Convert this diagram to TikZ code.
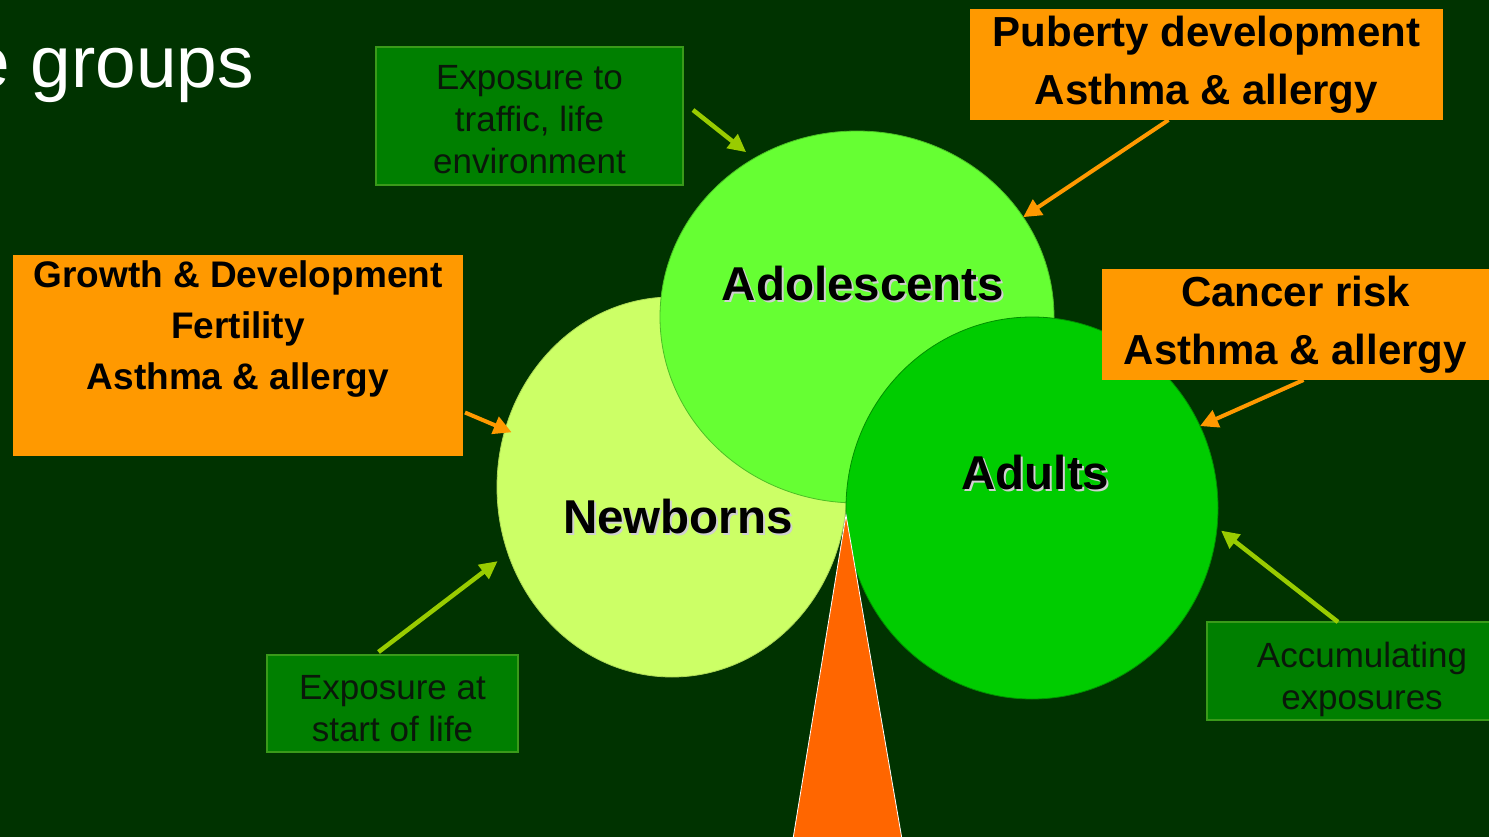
\documentclass[tikz,border=0pt]{standalone}
\usepackage{fontspec}
\setmainfont{Liberation Sans}
\usetikzlibrary{shapes.geometric,arrows.meta,calc}
\definecolor{bgc}{HTML}{003300}
\definecolor{newbc}{HTML}{CCFF66}
\definecolor{adolc}{HTML}{66FF33}
\definecolor{adultc}{HTML}{00CC00}
\definecolor{orangec}{HTML}{FF9900}
\definecolor{tric}{HTML}{FF6600}
\definecolor{gboxfill}{HTML}{007F00}
\definecolor{boxedge}{HTML}{3A9A1A}
\definecolor{gtext}{HTML}{0A180A}
\definecolor{limec}{HTML}{99CC00}
\definecolor{shadowc}{HTML}{D0D0D0}
\begin{document}
\begin{tikzpicture}[x=1pt,y=-1pt,
  gbox/.style={draw=boxedge, line width=1.5pt, fill=gboxfill, inner sep=0pt, outer sep=0pt},
  gtxt/.style={inner sep=0pt, align=center, text=gtext, font=\fontsize{35}{42}\selectfont},
  obox/.style={fill=orangec, inner sep=0pt, outer sep=0pt, align=center, text=black,
    font=\bfseries\fontsize{42}{58}\selectfont},
  agecircle/.style={ellipse, inner sep=0pt, outer sep=0pt, line width=0.8pt},
  circlabel/.style={inner sep=0pt, anchor=base, font=\bfseries\fontsize{47.5}{50}\selectfont},
  limearrow/.style={draw=limec, line width=4.5pt, -{Triangle[length=18pt,width=17pt]}},
  orarrow/.style={draw=orangec, line width=4pt, -{Triangle[length=18pt,width=18pt]}}
]
\useasboundingbox (0,0) rectangle (1489,837);
\fill[bgc] (0,0) rectangle (1489,837);

% title
\node[anchor=base east, text=white, inner sep=0pt, font=\fontsize{73}{80}\selectfont] (title) at (254,88) {e groups};

% circles
\node[agecircle, fill=newbc, draw=newbc!85!black, minimum width=350pt, minimum height=380pt] (newb) at (672,487) {};
\node[agecircle, fill=adolc, draw=adolc!75!black, minimum width=394pt, minimum height=372pt] (adol) at (857,317) {};
\node[agecircle, fill=adultc, draw=adultc!70!black, minimum width=372pt, minimum height=382pt] (adult) at (1032,508) {};

% trunk
\filldraw[fill=tric, draw=white, line width=0.8pt] (846,515) -- (792,845) -- (903,845) -- cycle;

% circle labels
\node[circlabel, text=shadowc] (adolsh) at (865,302) {Adolescents};
\node[circlabel] (adolt) at (863,300) {Adolescents};
\node[circlabel, text=shadowc] (newbsh) at (680,535) {Newborns};
\node[circlabel] (newbt) at (678,533) {Newborns};
\node[circlabel, text=shadowc] (adultsh) at (1037.5,491) {Adults};
\node[circlabel] (adultt) at (1035.5,489) {Adults};

% green exposure boxes
\node[gbox, minimum width=307pt, minimum height=138pt] (traffic) at (529.5,116) {};
\node[gtxt] (traffict) at (529.5,119.5) {Exposure to\\traffic, life\\environment};
\node[gbox, minimum width=251pt, minimum height=97pt] (birth) at (392.5,703.5) {};
\node[gtxt] (birtht) at (392.5,709) {Exposure at\\start of life};
\node[gbox, minimum width=310pt, minimum height=98pt] (accum) at (1362,671) {};
\node[gtxt] (accumt) at (1362,679) {Accumulating\\exposures};

% orange outcome boxes
\node[obox, minimum width=473pt, minimum height=111pt] (pub) at (1206.5,64.5) {Puberty development\\Asthma \& allergy};
\node[obox, minimum width=387pt, minimum height=111pt] (cancer) at (1295.5,324.5) {Cancer risk\\Asthma \& allergy};
\node[fill=orangec, inner sep=0pt, outer sep=0pt, minimum width=450pt, minimum height=201pt] (growth) at (238,355.5) {};
\node[anchor=north, inner sep=0pt, align=center, font=\bfseries\fontsize{37}{51}\selectfont] (growtht) at (238,260) {Growth \& Development\\Fertility\\Asthma \& allergy};

% arrows
\draw[limearrow, shorten >=10pt] ($(traffic.east)+(10,-6)$) -- (adol.123);
\draw[limearrow, shorten >=13pt] ($(birth.north)+(-14,-3)$) -- (newb.202.5);
\draw[limearrow, shorten >=5pt] ($(accum.north west)+(131,0)$) -- (adult.-6);
\draw[orarrow] ($(pub.south)+(-38,0)$) -- (adol.31.5);
\draw[orarrow] ($(cancer.south)+(8,0)$) -- (adult.26);
\draw[orarrow, shorten >=-7pt] ($(growth.east)+(2,57)$) -- (newb.161);
\end{tikzpicture}
\end{document}
